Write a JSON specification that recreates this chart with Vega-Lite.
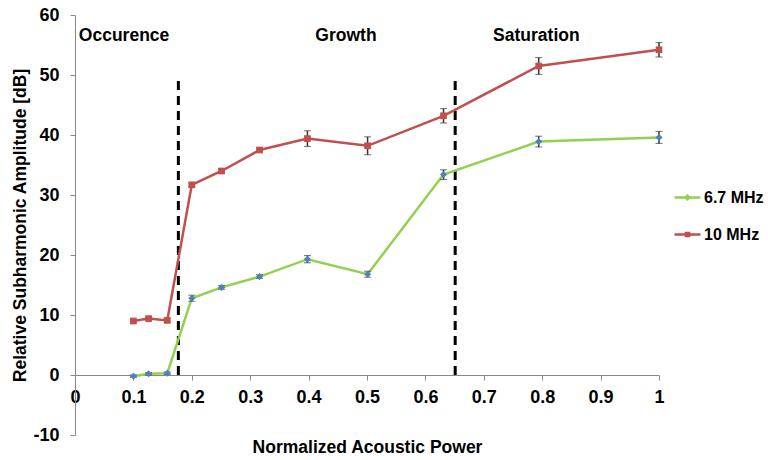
{
  "$schema": "https://vega.github.io/schema/vega-lite/v6.json",
  "width": 584,
  "height": 420,
  "autosize": "none",
  "padding": {"left": 75, "top": 15, "right": 109, "bottom": 25},
  "background": "white",
  "config": {
    "view": {"stroke": null},
    "font": "Liberation Sans"
  },
  "datasets": {
    "series": [
      {"p": 0.1, "amp": -0.2, "lo": -0.4, "hi": 0.0, "freq": "6.7 MHz"},
      {"p": 0.126, "amp": 0.2, "lo": 0.0, "hi": 0.4, "freq": "6.7 MHz"},
      {"p": 0.158, "amp": 0.3, "lo": 0.1, "hi": 0.5, "freq": "6.7 MHz"},
      {"p": 0.2, "amp": 12.8, "lo": 12.3, "hi": 13.3, "freq": "6.7 MHz"},
      {"p": 0.251, "amp": 14.6, "lo": 14.3, "hi": 14.9, "freq": "6.7 MHz"},
      {"p": 0.316, "amp": 16.4, "lo": 16.1, "hi": 16.7, "freq": "6.7 MHz"},
      {"p": 0.398, "amp": 19.3, "lo": 18.7, "hi": 19.9, "freq": "6.7 MHz"},
      {"p": 0.501, "amp": 16.8, "lo": 16.3, "hi": 17.3, "freq": "6.7 MHz"},
      {"p": 0.631, "amp": 33.4, "lo": 32.6, "hi": 34.2, "freq": "6.7 MHz"},
      {"p": 0.794, "amp": 38.9, "lo": 38.0, "hi": 39.8, "freq": "6.7 MHz"},
      {"p": 1.0, "amp": 39.6, "lo": 38.6, "hi": 40.6, "freq": "6.7 MHz"},
      {"p": 0.1, "amp": 9.0, "lo": 8.8, "hi": 9.2, "freq": "10 MHz"},
      {"p": 0.126, "amp": 9.4, "lo": 9.2, "hi": 9.6, "freq": "10 MHz"},
      {"p": 0.158, "amp": 9.1, "lo": 8.8, "hi": 9.4, "freq": "10 MHz"},
      {"p": 0.2, "amp": 31.7, "lo": 31.4, "hi": 32.0, "freq": "10 MHz"},
      {"p": 0.251, "amp": 34.0, "lo": 33.7, "hi": 34.3, "freq": "10 MHz"},
      {"p": 0.316, "amp": 37.5, "lo": 37.2, "hi": 37.8, "freq": "10 MHz"},
      {"p": 0.398, "amp": 39.4, "lo": 38.1, "hi": 40.7, "freq": "10 MHz"},
      {"p": 0.501, "amp": 38.2, "lo": 36.7, "hi": 39.7, "freq": "10 MHz"},
      {"p": 0.631, "amp": 43.2, "lo": 42.0, "hi": 44.4, "freq": "10 MHz"},
      {"p": 0.794, "amp": 51.5, "lo": 50.1, "hi": 52.9, "freq": "10 MHz"},
      {"p": 1.0, "amp": 54.2, "lo": 53.0, "hi": 55.4, "freq": "10 MHz"}
    ],
    "dividers": [
      {"p": 0.177, "y0": 0, "y1": 49},
      {"p": 0.651, "y0": 0, "y1": 49}
    ],
    "phases": [
      {"p": 0.084, "y": 56.5, "label": "Occurence"},
      {"p": 0.464, "y": 56.5, "label": "Growth"},
      {"p": 0.79, "y": 56.5, "label": "Saturation"}
    ]
  },
  "layer": [
    {
      "data": {"name": "dividers"},
      "mark": {"type": "rule", "color": "black", "strokeWidth": 3, "strokeDash": [9, 6]},
      "encoding": {
        "x": {"field": "p", "type": "quantitative", "title": "Normalized Acoustic Power", "scale": {"domain": [0, 1], "nice": false},
          "axis": {
            "offset": -60,
            "values": [0, 0.1, 0.2, 0.3, 0.4, 0.5, 0.6, 0.7, 0.8, 0.9, 1],
            "format": "~g",
            "grid": false,
            "domainColor": "#888888",
            "tickColor": "#888888",
            "tickSize": 5,
            "labelFont": "Liberation Sans",
            "labelFontSize": 18,
            "labelFontWeight": "bold",
            "labelColor": "black",
            "labelPadding": 8,
            "labelFlush": false,
            "titleFont": "Liberation Sans",
            "titleFontSize": 17.5,
            "titleFontWeight": "bold",
            "titleColor": "black",
            "titlePadding": 32
          }
        },
        "y": {"field": "y0", "type": "quantitative", "title": "Relative Subharmonic Amplitude [dB]", "scale": {"domain": [-10, 60], "nice": false},
          "axis": {
            "values": [-10, 0, 10, 20, 30, 40, 50, 60],
            "labelExpr": "'' + datum.value",
            "grid": false,
            "domainColor": "#888888",
            "tickColor": "#888888",
            "tickSize": 5,
            "labelFont": "Liberation Sans",
            "labelFontSize": 18,
            "labelFontWeight": "bold",
            "labelColor": "black",
            "labelPadding": 11,
            "titleFont": "Liberation Sans",
            "titleFontSize": 17.5,
            "titleFontWeight": "bold",
            "titleColor": "black",
            "titlePadding": 3
          }
        },
        "y2": {"field": "y1"}
      }
    },
    {
      "data": {"name": "phases"},
      "mark": {"type": "text", "font": "Liberation Sans", "fontSize": 17.5, "fontWeight": "bold", "color": "black"},
      "encoding": {
        "x": {"field": "p", "type": "quantitative", "title": "Normalized Acoustic Power"},
        "y": {"field": "y", "type": "quantitative", "title": "Relative Subharmonic Amplitude [dB]"},
        "text": {"field": "label"}
      }
    },
    {
      "data": {"name": "series"},
      "mark": {"type": "line", "strokeWidth": 2.5},
      "encoding": {
        "x": {"field": "p", "type": "quantitative", "title": "Normalized Acoustic Power"},
        "y": {"field": "amp", "type": "quantitative", "title": "Relative Subharmonic Amplitude [dB]"},
        "color": {"field": "freq", "type": "nominal",
          "scale": {"domain": ["6.7 MHz", "10 MHz"], "range": ["#92D050", "#C0504D"]},
          "legend": {
            "orient": "none",
            "legendX": 598,
            "legendY": 168,
            "title": null,
            "labelFont": "Liberation Sans",
            "labelFontSize": 16,
            "labelFontWeight": "bold",
            "labelColor": "black",
            "labelOffset": 2,
            "rowPadding": 14,
            "symbolSize": 676,
            "symbolStrokeWidth": 2.5,
            "symbolType": "M-1,0H1",
            "encode": {
              "symbols": {
                "update": {
                  "shape": {"signal": "datum.value === '6.7 MHz' ? 'M-1,0H1M0,-0.14L0.14,0L0,0.14L-0.14,0Z' : 'M-1,0H1M-0.12,-0.12H0.12V0.12H-0.12Z'"},
                  "fill": {"signal": "datum.value === '6.7 MHz' ? '#4F81BD' : '#C0504D'"},
                  "fillOpacity": {"value": 1}
                }
              }
            }
          }
        }
      }
    },
    {
      "data": {"name": "series"},
      "mark": {"type": "errorbar", "ticks": {"size": 7, "color": "#333333", "strokeWidth": 1.5}, "rule": {"color": "#333333", "strokeWidth": 1.5}},
      "encoding": {
        "x": {"field": "p", "type": "quantitative", "title": "Normalized Acoustic Power"},
        "y": {"field": "lo", "type": "quantitative", "title": "Relative Subharmonic Amplitude [dB]"},
        "y2": {"field": "hi"}
      }
    },
    {
      "data": {"name": "series"},
      "transform": [{"filter": "datum.freq === '6.7 MHz'"}],
      "mark": {"type": "point", "shape": "diamond", "filled": true, "opacity": 1, "color": "#4F81BD", "size": 50},
      "encoding": {
        "x": {"field": "p", "type": "quantitative", "title": "Normalized Acoustic Power"},
        "y": {"field": "amp", "type": "quantitative", "title": "Relative Subharmonic Amplitude [dB]"}
      }
    },
    {
      "data": {"name": "series"},
      "transform": [{"filter": "datum.freq === '10 MHz'"}],
      "mark": {"type": "point", "shape": "square", "filled": true, "opacity": 1, "color": "#C0504D", "size": 45},
      "encoding": {
        "x": {"field": "p", "type": "quantitative", "title": "Normalized Acoustic Power"},
        "y": {"field": "amp", "type": "quantitative", "title": "Relative Subharmonic Amplitude [dB]"}
      }
    }
  ]
}
